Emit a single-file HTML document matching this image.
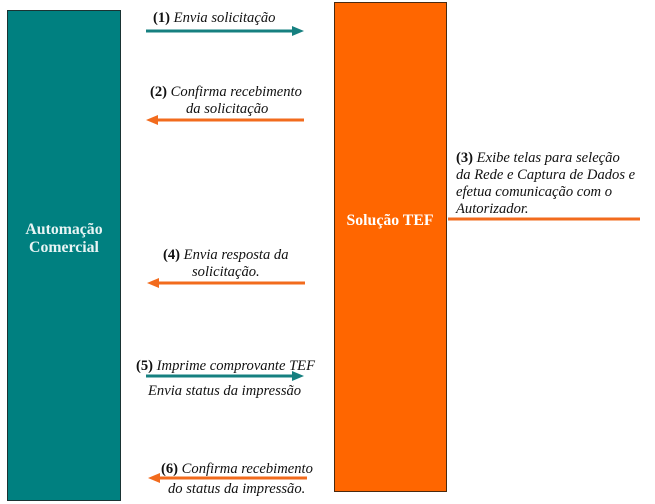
<!DOCTYPE html>
<html><head><meta charset="utf-8"><style>
html,body{margin:0;padding:0;background:#fff;width:655px;height:504px;overflow:hidden}
svg{display:block}
text{font-family:"Liberation Serif",serif;font-size:14.6px;fill:#111}
.i{font-style:italic}
.b{font-weight:bold;font-style:normal}
</style></head><body>
<svg width="655" height="504" viewBox="0 0 655 504">
<rect x="7.5" y="10.5" width="113" height="490" fill="#008080" stroke="#1a3333" stroke-width="1"/>
<rect x="334.5" y="2.5" width="112" height="489" fill="#ff6600" stroke="#4a2a10" stroke-width="1"/>
<text x="64" y="234" text-anchor="middle" style="font-weight:bold;font-size:15.8px;fill:#e8f4f4">Automação</text>
<text x="64" y="252" text-anchor="middle" style="font-weight:bold;font-size:15.8px;fill:#e8f4f4">Comercial</text>
<text x="390" y="225" text-anchor="middle" style="font-weight:bold;font-size:15.8px;fill:#fff">Solução TEF</text>

<text x="153" y="22"><tspan class="b">(1)</tspan><tspan class="i"> Envia solicitação</tspan></text>
<line x1="146" y1="31" x2="294" y2="31" stroke="#168080" stroke-width="3"/>
<polygon points="292,26 304,31 292,36" fill="#168080"/>

<text x="150" y="96"><tspan class="b">(2)</tspan><tspan class="i"> Confirma recebimento</tspan></text>
<text x="186" y="113" class="i">da solicitação</text>
<line x1="156" y1="120" x2="304" y2="120" stroke="#f26b1d" stroke-width="3"/>
<polygon points="158,115 146,120 158,125" fill="#f26b1d"/>

<text x="456" y="162"><tspan class="b">(3)</tspan><tspan class="i"> Exibe telas para seleção</tspan></text>
<text x="456" y="179" class="i">da Rede e Captura de Dados e</text>
<text x="456" y="196" class="i">efetua comunicação com o</text>
<text x="456" y="213" class="i">Autorizador.</text>
<line x1="448" y1="219" x2="640" y2="219" stroke="#f26b1d" stroke-width="3"/>

<text x="163" y="259"><tspan class="b">(4)</tspan><tspan class="i"> Envia resposta da</tspan></text>
<text x="192" y="276" class="i">solicitação.</text>
<line x1="157" y1="283" x2="305" y2="283" stroke="#f26b1d" stroke-width="3"/>
<polygon points="159,278 147,283 159,288" fill="#f26b1d"/>

<text x="136" y="370"><tspan class="b">(5)</tspan><tspan class="i"> Imprime comprovante TEF</tspan></text>
<line x1="146" y1="376" x2="294" y2="376" stroke="#168080" stroke-width="3"/>
<polygon points="292,371 304,376 292,381" fill="#168080"/>
<text x="148" y="395" class="i">Envia status da impressão</text>

<text x="161" y="473"><tspan class="b">(6)</tspan><tspan class="i"> Confirma recebimento</tspan></text>
<line x1="158" y1="478" x2="307" y2="478" stroke="#f26b1d" stroke-width="3"/>
<polygon points="160,473 148,478 160,483" fill="#f26b1d"/>
<text x="168" y="493" class="i">do status da impressão.</text>
</svg>
</body></html>
